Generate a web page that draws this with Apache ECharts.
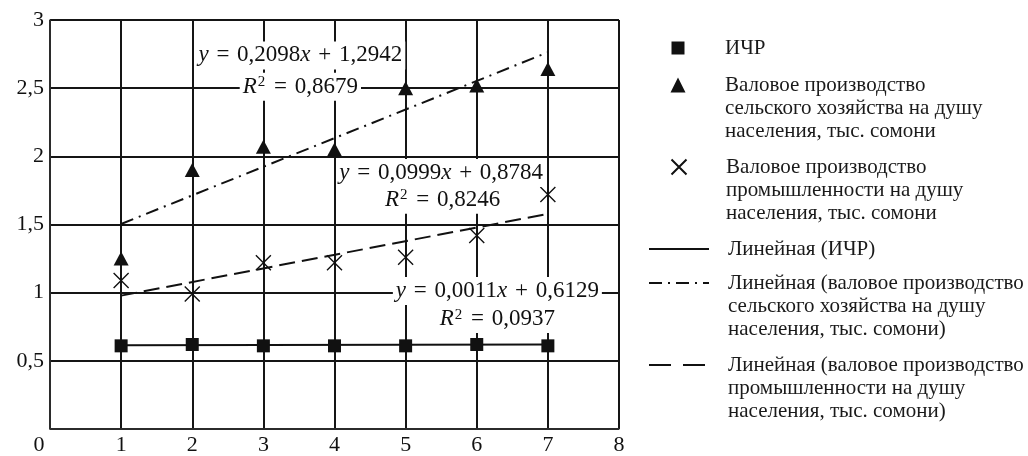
<!DOCTYPE html>
<html><head><meta charset="utf-8">
<script src="https://cdn.jsdelivr.net/npm/echarts/dist/echarts.min.js"></script>
<style>html,body{margin:0;padding:0;background:#fff}#c{width:1028px;height:456px}</style>
</head><body><div id="c"></div>
<script>
// ---- data ----
const years = [1, 2, 3, 4, 5, 6, 7];
const hdi = [0.61, 0.62, 0.61, 0.61, 0.61, 0.62, 0.61];
const agri = [1.25, 1.90, 2.07, 2.05, 2.50, 2.52, 2.64];
const industry = [1.09, 0.99, 1.22, 1.22, 1.26, 1.42, 1.72];
const xTickLabels = ['0', '1', '2', '3', '4', '5', '6', '7', '8'];
const yTickLabels = ['0', '0,5', '1', '1,5', '2', '2,5', '3'];
// trend lines (as printed on the chart): hdi, agri, industry
const trendSlope = [0.0011, 0.2098, 0.0999];
const trendIntercept = [0.6129, 1.2942, 0.8784];
const trendR2 = ['0,0937', '0,8679', '0,8246'];
const seriesNames = [
  'ИЧР',
  'Валовое производство\nсельского хозяйства на душу\nнаселения, тыс. сомони',
  'Валовое производство\nпромышленности на душу\nнаселения, тыс. сомони'
];
const trendNames = [
  'Линейная (ИЧР)',
  'Линейная (валовое производство\nсельского хозяйства на душу\nнаселения, тыс. сомони)',
  'Линейная (валовое производство\nпромышленности на душу\nнаселения, тыс. сомони)'
];

const FF = '"Liberation Serif", "Times New Roman", serif';
const INK = '#111';
const fmt = v => v.toFixed(4).replace('.', ',');
const pts = arr => years.map((x, i) => [x, arr[i]]);
const trendPts = k => [years[0], years[years.length - 1]].map(x => [x, +(trendSlope[k] * x + trendIntercept[k]).toFixed(4)]);

const EQ = 23;
const labelBase = {
  show: true, position: 'inside', fontFamily: FF, fontSize: EQ, color: INK,
  backgroundColor: '#fff', padding: [1, 3], lineHeight: 26,
  rich: {
    i: { fontStyle: 'italic', fontFamily: FF, fontSize: EQ, color: INK, lineHeight: 26 },
    o: { fontFamily: FF, fontSize: EQ, color: INK, lineHeight: 26, padding: [0, 2] },
    sup: { fontFamily: FF, fontSize: 15, color: INK, lineHeight: 16, verticalAlign: 'top', padding: [1, 1, 0, 1] }
  }
};
function eqMarks(k, p1, p2) {
  return {
    symbol: 'rect', symbolSize: 0, silent: true,
    data: [
      { coord: p1, label: Object.assign({}, labelBase, { formatter: '{i|y} {o|=} ' + fmt(trendSlope[k]) + '{i|x} {o|+} ' + fmt(trendIntercept[k]) }) },
      { coord: p2, label: Object.assign({}, labelBase, { formatter: '{i|R}{sup|2} {o|=} ' + trendR2[k] }) }
    ]
  };
}

const LH = 23;
const legendText = { fontFamily: FF, fontSize: 21, lineHeight: LH, color: '#1a1a1a' };
const hiddenSymbol = { color: 'rgba(0,0,0,0)', borderColor: 'rgba(0,0,0,0)', borderWidth: 0 };
function legendItem(item, firstLineY, lines, iconLeft, itemWidth, itemHeight, padL) {
  const pre = '\n'.repeat(lines - 1);
  return {
    orient: 'vertical', left: iconLeft, top: firstLineY - LH / 2 - (lines - 1) * LH, padding: 0,
    itemWidth: itemWidth, itemHeight: itemHeight, itemGap: 0, selectedMode: false,
    formatter: n => pre + n,
    textStyle: Object.assign({}, legendText, { padding: [0, 0, 0, padL] }),
    data: [item]
  };
}

const option = {
  backgroundColor: '#fff',
  animation: false,
  grid: { left: 50, top: 20, right: 409, bottom: 25, containLabel: false },
  xAxis: {
    type: 'value', min: 0, max: 8, interval: 1,
    axisLine: { show: true, lineStyle: { color: '#333', width: 1.5 } },
    axisTick: { show: false },
    axisLabel: {
      margin: 5, fontFamily: FF, fontSize: 22, color: INK,
      formatter: v => v === 0 ? '{z|' + xTickLabels[0] + '}' : xTickLabels[v],
      rich: { z: { fontFamily: FF, fontSize: 22, color: INK, padding: [0, 22, 0, 0] } }
    },
    splitLine: { show: true, lineStyle: { color: '#151515', width: 2 } }
  },
  yAxis: {
    type: 'value', min: 0, max: 3, interval: 0.5,
    axisLine: { show: true, lineStyle: { color: '#333', width: 1.5 } },
    axisTick: { show: false },
    axisLabel: {
      margin: 6, fontFamily: FF, fontSize: 22, color: INK,
      formatter: v => v === 0 ? '' : yTickLabels[Math.round(v * 2)]
    },
    splitLine: { show: true, lineStyle: { color: '#151515', width: 2 } }
  },
  legend: [
    legendItem({ name: seriesNames[0] }, 48, 1, 678 - 6.5, 13, 13, 42 - 6.5),
    legendItem({ name: seriesNames[1] }, 85, 3, 678 - 7.5, 15, 15, 42 - 7.5),
    legendItem({ name: seriesNames[2] }, 167, 3, 678 - 7.5, 15, 15, 42 - 7.5),
    legendItem({ name: trendNames[0], itemStyle: hiddenSymbol }, 249, 1, 648, 60, 14, 14),
    legendItem({ name: trendNames[1], itemStyle: hiddenSymbol }, 283, 3, 648, 60, 14, 14),
    legendItem({ name: trendNames[2], itemStyle: hiddenSymbol, lineStyle: { type: [22, 12] } }, 365, 3, 648, 60, 14, 14)
  ],
  series: [
    {
      name: trendNames[0], type: 'line', data: trendPts(0), symbol: 'none', z: 2,
      lineStyle: { color: INK, width: 2, type: 'solid' }, itemStyle: { color: INK },
      markPoint: eqMarks(0, [6.29, 1.012], [6.29, 0.806])
    },
    {
      name: trendNames[1], type: 'line', data: trendPts(1), symbol: 'none', z: 2,
      lineStyle: { color: INK, width: 2, type: [13, 6, 2, 6] }, itemStyle: { color: INK },
      markPoint: eqMarks(1, [3.52, 2.74], [3.52, 2.51])
    },
    {
      name: trendNames[2], type: 'line', data: trendPts(2), symbol: 'none', z: 2,
      lineStyle: { color: INK, width: 2, type: [16, 7] }, itemStyle: { color: INK },
      markPoint: eqMarks(2, [5.50, 1.877], [5.52, 1.682])
    },
    {
      name: seriesNames[0], type: 'scatter', data: pts(hdi), symbol: 'rect', symbolSize: 13, z: 4,
      itemStyle: { color: INK, opacity: 1 }
    },
    {
      name: seriesNames[1], type: 'scatter', data: pts(agri), symbol: 'triangle', symbolSize: [15, 14], z: 4,
      itemStyle: { color: INK, opacity: 1 }
    },
    {
      name: seriesNames[2], type: 'scatter', data: pts(industry), symbol: 'path://M0,0L10,10M10,0L0,10',
      symbolSize: 15, z: 4,
      itemStyle: { color: 'rgba(0,0,0,0)', borderColor: INK, borderWidth: 1.4, opacity: 1 }
    }
  ]
};
const chart = echarts.init(document.getElementById('c'), null, { renderer: 'canvas' });
chart.setOption(option);
</script>
</body></html>
